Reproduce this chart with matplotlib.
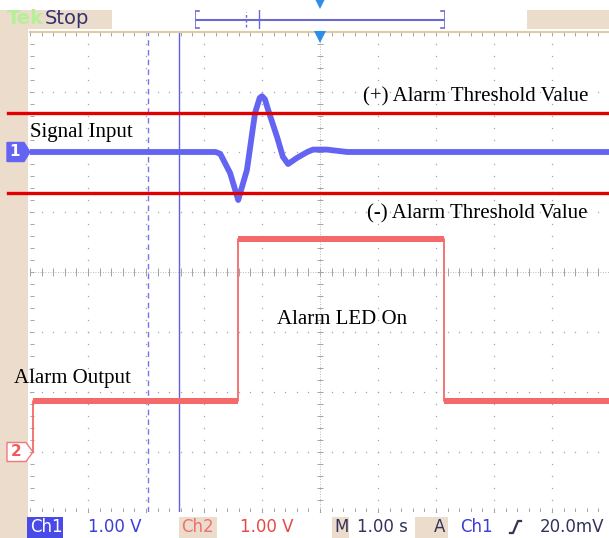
import numpy as np
import matplotlib
matplotlib.use('Agg')
import matplotlib.pyplot as plt
from matplotlib.patches import Rectangle, Polygon
from matplotlib.transforms import blended_transform_factory

# scope settings
time_per_div = 1.0        # s/div
ch1_volts_per_div = 1.0
ch2_volts_per_div = 1.0
ch1_ref_div = 2.0         # ground marker position, divisions from centre
ch2_ref_div = -3.0

# ch1 - signal input (seconds from trigger, volts)
ch1_t = [-5.0, -1.80, -1.72, -1.55, -1.41, -1.26, -1.12, -1.04, -1.00, -0.95, -0.90,
         -0.74, -0.64, -0.55, -0.40, -0.22, -0.12, 0.12, 0.47, 5.0]
ch1_v = [0.0, 0.0, -0.03, -0.35, -0.80, -0.30, 0.65, 0.90, 0.93, 0.88, 0.72,
         0.25, -0.08, -0.20, -0.10, 0.0, 0.04, 0.04, 0.0, 0.0]

# ch2 - alarm output
ch2_t = [-4.95, -4.95, -1.41, -1.41, 2.14, 2.14, 5.0]
ch2_v = [0.0, 0.85, 0.85, 3.55, 3.55, 0.85, 0.85]

alarm_thresholds = [0.65, -0.68]   # V, on ch1
cursor_t = [-2.97, -2.43]          # dashed, solid

W, H = 609, 538
beige = '#ecdccb'
ch1_color = '#6464f2'
ch2_color = '#f46a6a'
thresh_color = '#e00000'
grid_color = '#a4a4a4'
band = 0.055   # ch2 trace noise half-width, divisions


def main():
	plt.rcParams['font.family'] = ['DejaVu Sans']
	fig = plt.figure(figsize=(W / 100, H / 100), dpi=100)

	# background layer in pixel coords
	bg = fig.add_axes([0, 0, 1, 1], zorder=0)
	bg.set_xlim(0, W)
	bg.set_ylim(H, 0)
	bg.set_axis_off()
	bg.add_patch(Rectangle((0, 10), 28, H - 10, color=beige, lw=0))
	bg.add_patch(Rectangle((0, 10), 112, 19, color=beige, lw=0))
	bg.add_patch(Rectangle((527, 10), W - 527, 19, color=beige, lw=0))
	bg.text(7, 18, 'Tek', color='#b4f096', fontsize=14, fontweight='bold', va='center')
	bg.text(45, 18, 'Stop', color='#34346e', fontsize=14, va='center')

	# bottom status bar
	bar_y = 527
	bg.add_patch(Rectangle((27, 517), 36, 21, color='#4a4ae8', lw=0))
	bg.add_patch(Rectangle((179, 517), 38, 21, color=beige, lw=0))
	bg.add_patch(Rectangle((332, 517), 17, 21, color=beige, lw=0))
	bg.add_patch(Rectangle((415, 517), 33, 21, color=beige, lw=0))
	bar = dict(fontsize=12, va='center')
	bg.text(30, bar_y, 'Ch1', color='white', **bar)
	bg.text(88, bar_y, '1.00 V', color='#3c3cd8', **bar)
	bg.text(181, bar_y, 'Ch2', color='#f07070', **bar)
	bg.text(240, bar_y, '1.00 V', color='#e84848', **bar)
	bg.text(334, bar_y, 'M', color='#34345a', **bar)
	bg.text(357, bar_y, '1.00 s', color='#34345a', **bar)
	bg.text(434, bar_y, 'A', color='#34345a', **bar)
	bg.text(460, bar_y, 'Ch1', color='#3c3cd8', **bar)
	bg.plot([510, 513, 518, 521], [533, 533, 521, 521], color='#34345a', lw=1.6)
	bg.text(540, bar_y, '20.0mV', color='#34345a', **bar)

	# main graticule: x in seconds, y in divisions
	ax = fig.add_axes([30 / W, (H - 512) / H, 580 / W, 480 / H], zorder=1)
	ax.set_xlim(-5 * time_per_div, 5 * time_per_div)
	ax.set_ylim(-4, 4)
	ax.set_axis_off()

	minor_x = np.arange(-5, 5.001, 0.2) * time_per_div
	minor_y = np.arange(-4, 4.001, 0.2)
	major_x = np.arange(-4, 5) * time_per_div
	major_y = np.arange(-3, 4)
	gx, gy = np.meshgrid(major_x, minor_y)
	ax.plot(gx.ravel(), gy.ravel(), ls='none', marker='s', ms=0.9, mew=0, color=grid_color)
	gx, gy = np.meshgrid(minor_x, major_y)
	ax.plot(gx.ravel(), gy.ravel(), ls='none', marker='s', ms=0.9, mew=0, color=grid_color)

	# centre crosshair and edge rulers
	ax.axhline(0, color=grid_color, lw=0.6, ls=(0, (1, 2)))
	ax.axvline(0, color=grid_color, lw=0.6, ls=(0, (1, 2)))
	ax.vlines(minor_x, -0.06, 0.06, color=grid_color, lw=0.7)
	ax.hlines(minor_y, -0.06 * time_per_div, 0.06 * time_per_div, color=grid_color, lw=0.7)
	ax.vlines(minor_x, 3.93, 4, color=grid_color, lw=0.7)
	ax.vlines(minor_x, -4, -3.93, color=grid_color, lw=0.7)
	ax.hlines(minor_y, -5 * time_per_div, -4.93 * time_per_div, color=grid_color, lw=0.7)
	ax.axhline(4, color='#dccca4', lw=1.5, clip_on=False)

	# cursors
	ax.axvline(cursor_t[0], color='#7474f2', lw=1.0, ls=(0, (4, 3)), zorder=1.5)
	ax.axvline(cursor_t[1], color='#6060e4', lw=1.0, zorder=1.5)

	# traces
	y1 = ch1_ref_div + np.array(ch1_v) / ch1_volts_per_div
	ax.plot(ch1_t, y1, color=ch1_color, lw=4.2, solid_joinstyle='round',
			solid_capstyle='butt', zorder=2)
	y2 = ch2_ref_div + np.array(ch2_v) / ch2_volts_per_div
	ax.fill_between(ch2_t, y2 - band, y2 + band, color=ch2_color, lw=0, zorder=2)
	ax.plot(ch2_t, y2, color=ch2_color, lw=1.3, zorder=2)

	# alarm thresholds
	for th in alarm_thresholds:
		ax.axhline(ch1_ref_div + th / ch1_volts_per_div, xmin=-22 / 580, xmax=1,
				   color=thresh_color, lw=2.4, clip_on=False, zorder=3)

	# trigger position marker
	ax.plot([0], [3.91], marker='v', ms=9, color='#2f8fe8', mew=0, clip_on=False, zorder=4)

	# channel markers on left strip
	tr = blended_transform_factory(bg.transData, ax.transData)
	d = 9.5 / 60
	ax.add_patch(Polygon([(7, ch1_ref_div + d), (24, ch1_ref_div + d), (30, ch1_ref_div),
						  (24, ch1_ref_div - d), (7, ch1_ref_div - d)],
						 closed=True, color=ch1_color, transform=tr, clip_on=False))
	ax.text(15, ch1_ref_div, '1', color='white', fontsize=11, fontweight='bold',
			ha='center', va='center', transform=tr)
	ax.add_patch(Polygon([(7, ch2_ref_div + d), (26, ch2_ref_div + d), (33, ch2_ref_div),
						  (26, ch2_ref_div - d), (7, ch2_ref_div - d)],
						 closed=True, facecolor='white', edgecolor='#f07878', lw=1,
						 transform=tr, clip_on=False))
	ax.text(16, ch2_ref_div, '2', color='#f05a5a', fontsize=11, fontweight='bold',
			ha='center', va='center', transform=tr)

	# annotations
	note = dict(family='Liberation Serif', fontsize=15, color='black', va='center')
	ax.text(-5.0, 2.33, 'Signal Input', ha='left', **note)
	ax.text(4.62, 2.92, '(+) Alarm Threshold Value', ha='right', **note)
	ax.text(4.62, 0.97, '(-) Alarm Threshold Value', ha='right', **note)
	ax.text(0.38, -0.80, 'Alarm LED On', ha='center', **note)
	ax.text(-4.26, -1.77, 'Alarm Output', ha='center', **note)

	# record view on top
	rv = fig.add_axes([195 / W, (H - 29) / H, 250 / W, 19 / H], zorder=2)
	rv.set_xlim(-5 * time_per_div, 5 * time_per_div)
	rv.set_ylim(0, 1)
	rv.set_axis_off()
	rv_color = '#6a6ad6'
	rv.plot([-5, 5], [0.47, 0.47], color=rv_color, lw=1.5)
	rv.plot([-4.85, -5, -5, -4.85], [0.05, 0.05, 0.95, 0.95], color=rv_color, lw=1.2)
	rv.plot([4.85, 5, 5, 4.85], [0.05, 0.05, 0.95, 0.95], color=rv_color, lw=1.2)
	rv.plot([cursor_t[0]] * 2, [0.1, 0.9], color=rv_color, lw=1.0, ls=(0, (2, 1.5)))
	rv.plot([cursor_t[1]] * 2, [0.0, 1.0], color=rv_color, lw=1.0)
	rv.plot([0], [1.35], marker='v', ms=9, color='#2f8fe8', mew=0, clip_on=False)

	fig.savefig('out.png', dpi=100)


if __name__ == '__main__':
	main()
